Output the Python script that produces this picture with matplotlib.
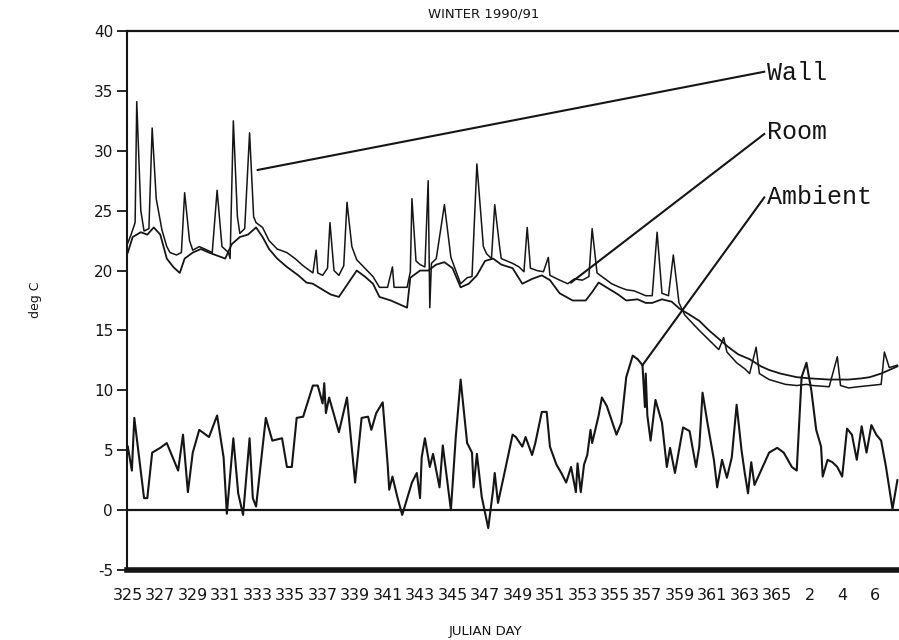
import matplotlib
matplotlib.use("Agg")
import matplotlib.pyplot as plt

plt.rcParams["axes.unicode_minus"] = False

# ---------------- data (continuous day: 366 -> day 1 of 1991, etc.) ----------------
tick_pos = list(range(325, 366, 2)) + [367, 369, 371]
tick_labels = [str(d) for d in range(325, 366, 2)] + ["2", "4", "6"]
y_ticks = [-5, 0, 5, 10, 15, 20, 25, 30, 35, 40]

wall_day = [325.0, 325.2, 325.45, 325.55, 325.8, 326.0, 326.3, 326.5, 326.75, 327.1,
            327.4, 327.6, 328.0, 328.3, 328.5, 328.8, 329.0, 329.4, 329.9, 330.2,
            330.5, 330.8, 331.2, 331.3, 331.5, 331.75, 331.9, 332.2, 332.5, 332.75,
            332.9, 333.3, 333.7, 334.2, 334.8, 335.3, 335.8, 336.4, 336.6, 336.7,
            337.0, 337.3, 337.45, 337.7, 338.0, 338.3, 338.5, 338.8, 339.1, 339.6,
            340.1, 340.5, 341.0, 341.3, 341.4, 342.2, 342.4, 342.5, 342.75, 343.0,
            343.3, 343.5, 343.6, 343.7, 344.0, 344.5, 344.9, 345.2, 345.5, 345.9,
            346.2, 346.5, 346.9, 347.1, 347.4, 347.6, 347.9, 348.0, 348.7, 349.1,
            349.4, 349.6, 349.8, 350.2, 350.6, 350.9, 351.0, 351.6, 352.1, 352.5,
            353.0, 353.4, 353.6, 353.9, 354.3, 354.8, 355.3, 355.7, 356.2, 356.9,
            357.3, 357.6, 357.9, 358.3, 358.6, 358.95, 359.3, 359.5, 360.2, 360.8,
            361.4, 361.7, 361.9, 362.5, 363.0, 363.3, 363.7, 363.9, 364.5, 365.0,
            365.5, 366.2, 366.8, 367.2, 368.2, 368.7, 368.9, 369.4, 370.0, 370.7,
            371.4, 371.6, 371.9, 372.4]
wall_temp = [22.3, 23.0, 24.0, 34.1, 25.0, 23.3, 23.5, 31.9, 26.0, 23.4,
             22.0, 21.5, 21.3, 21.5, 26.5, 22.5, 21.7, 22.0, 21.7, 21.5,
             26.7, 22.0, 21.5, 21.0, 32.5, 24.5, 23.1, 23.5, 31.5, 24.5,
             24.0, 23.6, 22.5, 21.8, 21.5, 21.0, 20.4, 19.8, 21.7, 19.8,
             19.6, 20.2, 24.0, 20.0, 19.6, 20.4, 25.7, 22.0, 20.9, 20.2,
             19.5, 18.6, 18.6, 20.3, 18.6, 18.6, 19.9, 26.0, 20.8, 20.5,
             20.3, 27.5, 16.9, 20.6, 21.0, 25.5, 21.1, 20.0, 18.9, 19.4,
             19.5, 28.9, 22.0, 21.4, 21.0, 25.5, 22.0, 21.0, 20.6, 20.3,
             19.9, 23.6, 20.2, 20.0, 19.9, 21.1, 19.6, 19.2, 18.9, 19.3,
             19.2, 19.5, 23.5, 19.8, 19.4, 18.9, 18.6, 18.4, 18.3, 17.9,
             17.9, 23.2, 18.1, 17.9, 21.3, 17.3, 16.3, 16.0, 15.0, 14.2,
             13.4, 14.4, 13.2, 12.3, 11.8, 11.4, 13.6, 11.4, 10.9, 10.7,
             10.5, 10.4, 10.5, 10.4, 10.3, 12.8, 10.4, 10.2, 10.3, 10.4,
             10.5, 13.2, 11.9, 12.1]

room_day = [325.0, 325.3, 325.8, 326.2, 326.6, 327.0, 327.4, 327.8, 328.2, 328.5,
            329.0, 329.5, 330.0, 330.6, 331.0, 331.4, 331.9, 332.4, 332.9, 333.3,
            333.7, 334.2, 334.8, 335.5, 336.0, 336.4, 337.0, 337.5, 338.0, 338.5,
            339.1, 339.6, 340.1, 340.5, 341.2, 342.2, 342.4, 343.0, 343.5, 344.0,
            344.5, 345.0, 345.5, 346.0, 346.5, 347.0, 347.5, 348.0, 348.7, 349.3,
            349.9, 350.5, 351.0, 351.6, 352.4, 353.2, 353.6, 354.0, 354.6, 355.2,
            355.7, 356.4, 356.9, 357.3, 357.9, 358.5, 359.0, 359.5, 360.2, 360.8,
            361.4, 362.0, 362.6, 363.3, 364.0, 364.5, 365.2, 366.2, 367.0, 368.2,
            369.4, 370.2, 370.7, 371.4, 372.4]
room_temp = [21.5, 22.8, 23.2, 23.0, 23.6, 23.0, 21.0, 20.3, 19.8, 21.0,
             21.5, 21.8, 21.5, 21.2, 21.0, 22.2, 22.8, 23.0, 23.6, 22.8,
             21.8, 21.0, 20.3, 19.6, 19.0, 18.9, 18.4, 18.0, 17.8, 18.8,
             20.0, 19.5, 18.9, 17.8, 17.5, 16.9, 19.4, 20.0, 20.0, 20.5,
             20.7, 20.2, 18.6, 18.9, 19.6, 20.8, 21.0, 20.5, 20.2, 18.9,
             19.3, 19.6, 19.2, 18.1, 17.5, 17.5, 18.2, 19.0, 18.5, 18.0,
             17.5, 17.6, 17.3, 17.3, 17.6, 17.4, 16.8, 16.4, 15.8, 15.0,
             14.3, 13.6, 13.0, 12.6, 12.0, 11.7, 11.4, 11.1, 11.0, 10.9,
             10.9, 11.0, 11.1, 11.4, 12.0]

amb_day = [325.0, 325.25, 325.4, 326.0, 326.2, 326.5, 327.0, 327.4, 328.1, 328.4,
           328.7, 329.0, 329.4, 330.0, 330.5, 330.9, 331.1, 331.5, 331.8, 332.1,
           332.5, 332.7, 332.9, 333.5, 333.9, 334.5, 334.8, 335.1, 335.4, 335.8,
           336.4, 336.7, 337.0, 337.1, 337.2, 337.4, 338.0, 338.5, 339.0, 339.4,
           339.8, 340.0, 340.3, 340.7, 341.0, 341.1, 341.3, 341.6, 341.9, 342.5,
           342.8, 343.0, 343.1, 343.3, 343.6, 343.8, 344.2, 344.4, 344.9, 345.2,
           345.5, 345.9, 346.2, 346.3, 346.5, 346.8, 347.2, 347.5, 347.6, 347.8,
           348.2, 348.7, 348.9, 349.3, 349.5, 349.9, 350.1, 350.5, 350.8, 351.0,
           351.4, 351.7, 352.0, 352.3, 352.6, 352.7, 352.9, 353.1, 353.3, 353.5,
           353.6, 354.0, 354.2, 354.5, 355.1, 355.4, 355.7, 356.1, 356.4, 356.7,
           356.85, 356.9, 357.0, 357.2, 357.5, 357.9, 358.2, 358.4, 358.7, 359.2,
           359.6, 360.0, 360.2, 360.4, 360.7, 361.1, 361.3, 361.6, 361.9, 362.2,
           362.5, 362.8, 363.0, 363.2, 363.4, 363.6, 364.0, 364.5, 365.0, 365.4,
           365.9, 366.2, 366.5, 366.8, 367.1, 367.4, 367.7, 367.8, 368.1, 368.4,
           368.7, 369.0, 369.3, 369.6, 369.9, 370.2, 370.5, 370.8, 371.1, 371.4,
           371.7, 372.1, 372.4]
amb_temp = [5.3, 3.3, 7.7, 1.0, 1.0, 4.8, 5.2, 5.6, 3.3, 6.3,
            1.5, 4.8, 6.7, 6.1, 7.9, 4.4, -0.3, 6.0, 1.4, -0.4,
            6.0, 1.0, 0.3, 7.7, 5.8, 6.0, 3.6, 3.6, 7.7, 7.8,
            10.4, 10.4, 8.9, 10.6, 8.1, 9.4, 6.5, 9.4, 2.3, 7.7,
            7.8, 6.7, 8.1, 9.0, 3.9, 1.7, 2.8, 1.1, -0.4, 2.3,
            3.1, 1.0, 4.4, 6.0, 3.6, 4.7, 1.9, 5.4, 0.0, 6.1,
            10.9, 5.6, 4.8, 1.9, 4.7, 1.1, -1.5, 1.7, 3.1, 0.6,
            3.1, 6.3, 6.1, 5.3, 6.1, 4.6, 5.6, 8.2, 8.2, 5.3,
            3.8, 3.1, 2.3, 3.6, 1.5, 3.9, 1.5, 3.8, 4.6, 6.7,
            5.6, 7.9, 9.4, 8.7, 6.3, 7.3, 11.1, 12.9, 12.6, 12.1,
            8.6, 11.4, 7.9, 5.8, 9.2, 7.3, 3.6, 5.2, 3.1, 6.9,
            6.6, 3.6, 5.3, 9.8, 7.3, 4.2, 1.9, 4.2, 2.7, 4.4,
            8.8, 5.0, 3.1, 1.4, 4.0, 2.1, 3.3, 4.8, 5.2, 4.8,
            3.6, 3.3, 11.1, 12.3, 10.0, 6.7, 5.3, 2.8, 4.2, 4.0,
            3.6, 2.8, 6.8, 6.3, 4.2, 7.0, 4.8, 7.1, 6.3, 5.8,
            3.6, 0.1, 2.5]

labels = ["Wall", "Room", "Ambient"]
label_xy = [(364.4, 36.5), (364.4, 31.6), (364.4, 26.1)]
leader_from = [(333.0, 28.4), (352.3, 19.0), (356.7, 12.1)]
leader_to = [(364.2, 36.6), (364.2, 31.4), (364.2, 26.1)]

# ---------------- figure ----------------
fig = plt.figure(figsize=(8.99, 6.40), dpi=100)
ax = fig.add_axes([127 / 899, 1 - 570 / 640, 772 / 899, 539 / 640])
ink = "#151515"

ax.plot(wall_day, wall_temp, color=ink, lw=1.1)
ax.plot(room_day, room_temp, color=ink, lw=1.3)
ax.plot(amb_day, amb_temp, color=ink, lw=1.5)
ax.axhline(0, color=ink, lw=1.6)

for (x0, y0), (x1, y1) in zip(leader_from, leader_to):
    ax.plot([x0, x1], [y0, y1], color=ink, lw=1.5)
for txt, (x, y) in zip(labels, label_xy):
    ax.text(x, y, txt, fontsize=18, family="Liberation Mono", color=ink,
            ha="left", va="center")

ax.set_xlim(324.95, 372.5)
ax.set_ylim(-5, 40)
ax.set_xticks(tick_pos)
ax.set_xticklabels(tick_labels)
ax.set_yticks(y_ticks)
ax.tick_params(axis="x", length=0, pad=13, labelsize=11.5, colors=ink)
ax.tick_params(axis="y", direction="out", length=7, width=1.3, pad=3,
               labelsize=11, colors=ink)

ax.spines["right"].set_visible(False)
ax.spines["left"].set_linewidth(1.5)
ax.spines["top"].set_linewidth(1.6)
ax.spines["bottom"].set_linewidth(4)
for s in ax.spines.values():
    s.set_color(ink)

fig.text(484 / 899, 1 - 14 / 640, "WINTER 1990/91", ha="center", va="center",
         fontsize=9.5, color=ink)
fig.text(35 / 899, 1 - 300 / 640, "deg C", rotation=90, ha="center", va="center",
         fontsize=9, color=ink)
fig.text(485 / 899, 1 - 632 / 640, "JULIAN DAY", ha="center", va="center",
         fontsize=9.5, color=ink)

fig.savefig("out.png", dpi=100)
